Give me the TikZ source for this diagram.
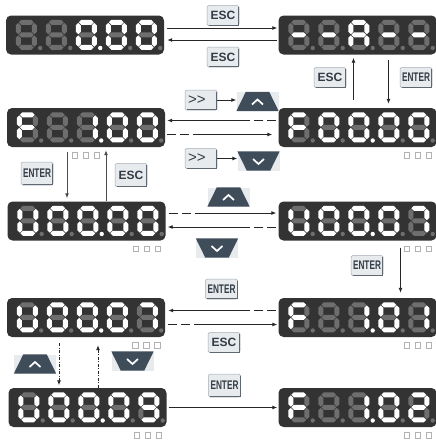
\documentclass[tikz,border=0pt]{standalone}
\usepackage{fontspec}
\usepackage{xstring}
\usetikzlibrary{positioning,calc,arrows.meta}
\newfontfamily\keyfont{Liberation Sans}
\newfontfamily\keynarrow[FakeStretch=0.66]{Liberation Sans}
\definecolor{ledpanel}{HTML}{333333}
\definecolor{ledoff}{HTML}{6E6E6E}
\definecolor{keyface}{HTML}{E7EBEE}
\definecolor{keyedge}{HTML}{A3ABB3}
\definecolor{keyshade}{HTML}{5F6770}
\definecolor{keyslate}{HTML}{3F4D5B}
\definecolor{keytext}{HTML}{333B44}
\tikzset{
  panel/.style={rectangle, rounded corners=5pt, fill=ledpanel, minimum width=158pt, minimum height=39pt, inner sep=0pt},
  flow/.style={line width=0.9pt, draw=black!85, -{Latex[length=5pt,width=4pt]}},
  lead dash/.style={dash pattern=on 9pt off 4pt on 9pt off 4pt on 500pt off 1pt},
  dot dash/.style={dash pattern=on 3pt off 1.5pt on 1pt off 1.5pt},
  btn/.style={rectangle, rounded corners=1.5pt, fill=keyface, draw=keyedge, line width=0.5pt, minimum width=32pt, minimum height=20pt,
              inner sep=0pt, text=keytext, font=\keyfont\bfseries\fontsize{12}{12}\selectfont},
  narrow btn/.style={btn, font=\keynarrow\bfseries\fontsize{12.5}{12.5}\selectfont},
  shift btn/.style={btn, text width=26pt, align=left, font=\keyfont\fontsize{15}{15}\selectfont},
  trapbg/.style={rectangle, fill=keyface, minimum width=42pt, minimum height=19pt, inner sep=0pt},
  marksq/.style={draw=black!30, line width=0.5pt}
}
% one digit: top left corner, lit segments, lit point
\newcommand{\segdigit}[3]{%
  \begin{scope}[shift={#1}]
    \foreach \s/\sy in {a/2.5,g/15,d/27.5}{
      \IfSubStr{#2}{\s}{\def\segcol{white}}{\def\segcol{ledoff}}
      \fill[\segcol] (3.1,\sy) -- (5.6,\sy-2.5) -- (15.4,\sy-2.5) -- (17.9,\sy) -- (15.4,\sy+2.5) -- (5.6,\sy+2.5) -- cycle;
    }
    \foreach \s/\sx/\sa/\sb in {f/2.5/3.1/14.4,b/18.5/3.1/14.4,e/2.5/15.6/26.9,c/18.5/15.6/26.9}{
      \IfSubStr{#2}{\s}{\def\segcol{white}}{\def\segcol{ledoff}}
      \fill[\segcol] (\sx,\sa) -- (\sx+2.5,\sa+2.5) -- (\sx+2.5,\sb-2.5) -- (\sx,\sb) -- (\sx-2.5,\sb-2.5) -- (\sx-2.5,\sa+2.5) -- cycle;
    }
    \ifnum#3=1 \def\segcol{white}\else\def\segcol{ledoff}\fi
    \fill[\segcol] (24.4,28.2) circle (2.2);
  \end{scope}}
% a five digit panel
\newcommand{\leddisplay}[3]{%
  \node[panel] (#1) at #2 {};
  \foreach \segs/\pnt [count=\i] in {#3}{
    \segdigit{($(#1.north west)+(\i*30-20,4.5)$)}{\segs}{\pnt}
  }
}
\newcommand{\keycap}[4][btn]{%
  \node[#1] (#2) at #3 {#4};
  \draw[keyshade, line width=1.2pt] ($(#2.north east)+(-0.4,2)$) -- ($(#2.south east)+(-0.4,-0.4)$) -- ($(#2.south west)+(2,-0.4)$);
}
\newcommand{\upkey}[2]{%
  \node[trapbg] (#1) at #2 {};
  \fill[keyslate] (#1.south west) -- (#1.south east) -- ($(#1.north east)+(-9.5,0)$) -- ($(#1.north west)+(9.5,0)$) -- cycle;
  \draw[white, line width=1.7pt] ($(#1.center)+(-5.5,3)$) -- ($(#1.center)+(0,-2)$) -- ($(#1.center)+(5.5,3)$);
}
\newcommand{\downkey}[2]{%
  \node[trapbg] (#1) at #2 {};
  \fill[keyslate] (#1.north west) -- (#1.north east) -- ($(#1.south east)+(-9.5,0)$) -- ($(#1.south west)+(9.5,0)$) -- cycle;
  \draw[white, line width=1.7pt] ($(#1.center)+(-5.5,-2)$) -- ($(#1.center)+(0,3)$) -- ($(#1.center)+(5.5,-2)$);
}
\newcommand{\keymarks}[2]{%
  \foreach \k in {-11,0,11}
    \draw[marksq] ($(#1)+(#2+\k-2.7,5.3)$) rectangle ++(5.4,5.4);
}

\begin{document}
\begin{tikzpicture}[x=1pt,y=-1pt]
\useasboundingbox (0,0) rectangle (436,440);
\fill[white] (0,0) rectangle (436,440);

% panels
\leddisplay{d1}{(85,35)}{-/0,-/0,abcdef/1,abcdef/0,abcdef/0}
\leddisplay{d2}{(357.5,35)}{g/0,g/0,abcefg/0,g/0,g/0}
\leddisplay{d3}{(86,127.5)}{aefg/0,-/0,bc/1,abcdef/0,abcdef/0}
\leddisplay{d4}{(357.5,127.5)}{aefg/0,abcdef/0,abcdef/1,abcdef/0,abcdef/0}
\leddisplay{d5}{(86.5,221)}{bcdef/0,abcdef/0,abcdef/1,abcdef/0,abcdef/0}
\leddisplay{d6}{(357.5,221)}{bcdef/0,abcdef/0,abcdef/1,abcdef/0,abc/0}
\leddisplay{d7}{(86,317.5)}{bcdef/0,abcdef/0,abcdef/1,abcdef/0,abc/0}
\leddisplay{d8}{(357.5,317.5)}{aefg/0,-/0,bc/1,abcdef/0,bc/0}
\leddisplay{d9}{(87.5,407.5)}{bcdef/0,abcdef/0,abcdef/1,abcdef/0,abcdfg/0}
\leddisplay{d10}{(357.5,407.5)}{aefg/0,-/0,bc/1,abcdef/0,abdeg/0}

\keymarks{d3.south}{0}
\keymarks{d4.south east}{-19}
\keymarks{d5.south east}{-19}
\keymarks{d6.south east}{-19}
\keymarks{d7.south east}{-19}
\keymarks{d8.south east}{-19}
\keymarks{d9.south east}{-19}
\keymarks{d10.south east}{-19}

% keys
\keycap{esc1}{(223,15.5)}{ESC}
\keycap{esc2}{(223,57)}{ESC}
\keycap{esc3}{(330,77.5)}{ESC}
\keycap[narrow btn]{ent1}{(416,77.5)}{ENTER}
\keycap[shift btn]{ff1}{(201,100)}{>>}
\keycap[shift btn]{ff2}{(201,158.5)}{>>}
\upkey{up1}{(257.5,101.5)}
\downkey{dn1}{(258.5,161)}
\keycap[narrow btn, minimum height=23pt]{ent2}{(37,173.5)}{ENTER}
\keycap[btn, minimum height=23pt]{esc4}{(131,175)}{ESC}
\upkey{up2}{(228.5,197)}
\downkey{dn2}{(217,248)}
\keycap[narrow btn]{ent3}{(367,265.5)}{ENTER}
\keycap[narrow btn]{ent4}{(221.5,289)}{ENTER}
\keycap{esc5}{(224,342.5)}{ESC}
\keycap[narrow btn, minimum height=23pt]{ent5}{(224.5,385.5)}{ENTER}
\upkey{up3}{(35,364)}
\downkey{dn3}{(132.5,361)}

% connectors
\draw[flow] ($(d1.east)+(3,-7)$) -- ($(d2.west)+(-1,-7)$);
\draw[flow] ($(d2.west)+(-1,5)$) -- ($(d1.east)+(3,5)$);
\draw[flow] ($(d4.north)+(-4,-8)$) -- ($(d2.south)+(-4,3)$);
\draw[flow] ($(d2.south)+(31,5)$) -- ($(d4.north)+(31,-4)$);
\draw[flow] (ff1.east) -- (ff1.east -| up1.west);
\draw[flow] (ff2.east) -- (ff2.east -| dn1.west);
\draw[flow, lead dash] ($(d4.west)+(-2,-7)$) -- ($(d3.east)+(2,-7)$);
\draw[flow, lead dash] ($(d3.east)+(2,7)$) -- ($(d4.west)+(-6,7)$);
\draw[flow, draw=black!70] ($(d3.south)+(-19,5)$) -- ($(d5.north)+(-19.5,-3)$);
\draw[flow, draw=black!70] ($(d5.north)+(19.5,0)$) -- ($(d3.south)+(20,3)$);
\draw[flow, lead dash] ($(d5.east)+(3,-8)$) -- ($(d6.west)+(-2,-8)$);
\draw[flow, lead dash] ($(d6.west)+(-2,6)$) -- ($(d5.east)+(2,6)$);
\draw[flow] ($(d6.south)+(43,7)$) -- ($(d8.north)+(43,-5)$);
\draw[flow, lead dash] ($(d8.west)+(-2,-7)$) -- ($(d7.east)+(3,-7)$);
\draw[flow, lead dash] ($(d7.east)+(3,7)$) -- ($(d8.west)+(-1,7)$);
\draw[flow, dot dash] ($(d7.south)+(-27,6)$) -- ($(d9.north)+(-28.5,-2.5)$);
\draw[flow, dot dash] ($(d9.north)+(10.5,0)$) -- ($(d7.south)+(12,8)$);
\draw[flow] ($(d9.east)+(2,0)$) -- ($(d10.west)+(-1,0)$);
\end{tikzpicture}
\end{document}
